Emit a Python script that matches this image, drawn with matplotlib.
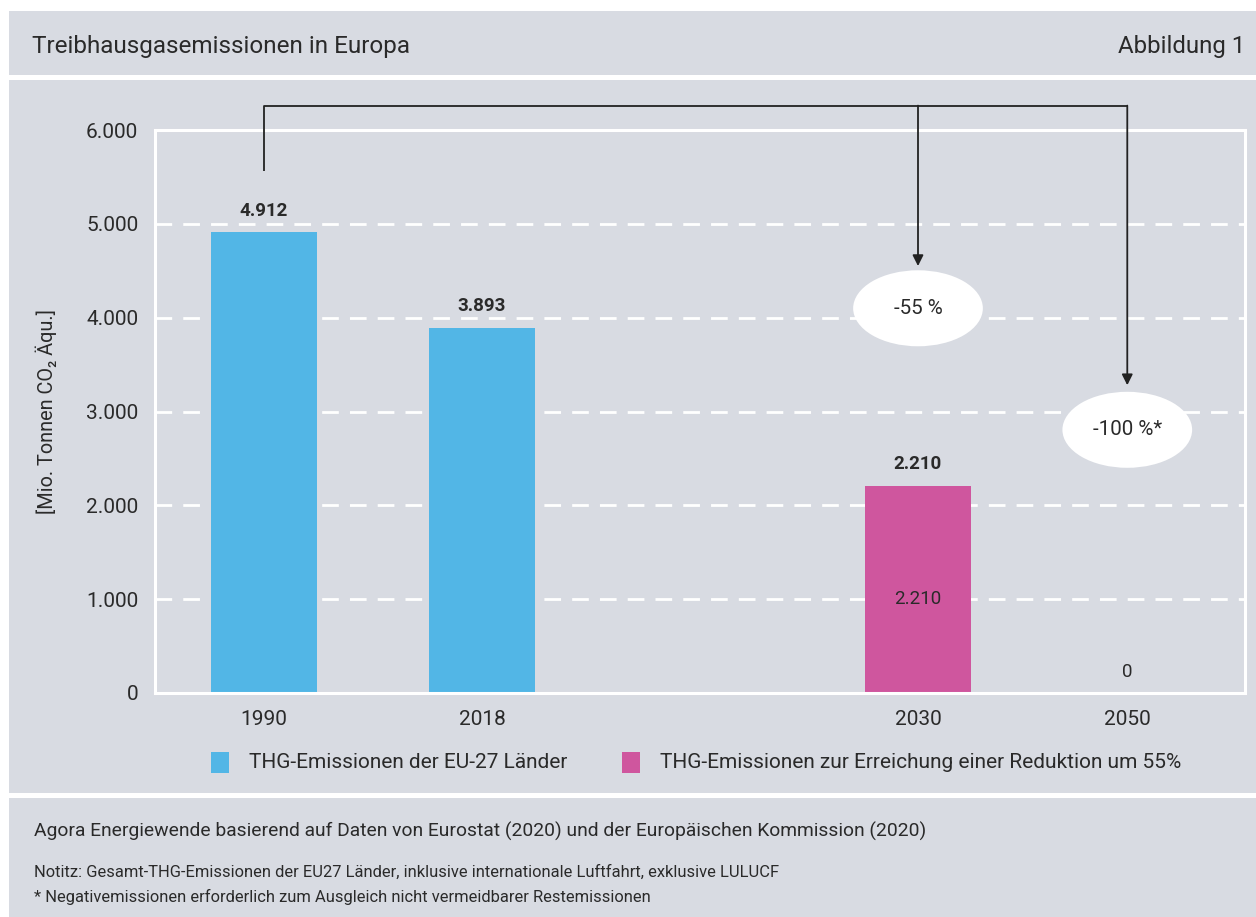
import matplotlib
matplotlib.use("Agg")
import matplotlib.pyplot as plt
from matplotlib.patches import Rectangle, Ellipse

plt.rcParams['font.family'] = ['Roboto', 'DejaVu Sans']

# ---- data ----
years = ["1990", "2018", "2030", "2050"]
positions = [0, 1, 3, 3.96]
values = [4912, 3893, 2210, 0]
top_labels = ["4.912", "3.893", "2.210", ""]
series_of_bar = ["eu", "eu", "target", "target"]
yticks = [0, 1000, 2000, 3000, 4000, 5000, 6000]
ytick_labels = ["0", "1.000", "2.000", "3.000", "4.000", "5.000", "6.000"]
legend_labels = ["THG-Emissionen der EU-27 Länder",
                 "THG-Emissionen zur Erreichung einer Reduktion um 55%"]
reductions = ["-55 %", "-100 %*"]

BLUE = "#52B6E6"
PINK = "#CF569E"
BG = "#D8DBE2"
TXT = "#2a2a2a"
colors = {"eu": BLUE, "target": PINK}

W, H = 1256, 917
fig = plt.figure(figsize=(W / 100, H / 100), dpi=100)
fig.patch.set_facecolor("white")

def px_rect(x0, y0, x1, y1, color, z=-10):
    fig.patches.append(Rectangle((x0 / W, 1 - y1 / H), (x1 - x0) / W, (y1 - y0) / H,
                                 transform=fig.transFigure, facecolor=color,
                                 edgecolor="none", zorder=z))

px_rect(9, 11, W, 75, BG)
px_rect(9, 80, W, 793, BG)
px_rect(9, 798, W, H, BG)

def ftext(x, y, s, **kw):
    fig.text(x / W, 1 - y / H, s, **kw)

ftext(32, 47, "Treibhausgasemissionen in Europa", fontsize=17.5, color=TXT, va="center", ha="left")
ftext(1245, 47, "Abbildung 1", fontsize=17.3, color=TXT, va="center", ha="right")

ax = fig.add_axes([155 / W, 1 - 693 / H, (1245 - 155) / W, (693 - 130) / H])
ax.set_facecolor(BG)
ax.set_xlim(-0.5, 4.5)
ax.set_ylim(0, 6000)
for s in ax.spines.values():
    s.set_color("white")
    s.set_linewidth(2.2)
ax.set_axisbelow(True)
ax.yaxis.grid(True, color="white", linestyle=(0, (6, 4)), linewidth=2)
ax.set_yticks(yticks)
ax.set_yticklabels(ytick_labels)
ax.set_xticks(positions)
ax.set_xticklabels(years)
ax.tick_params(axis="y", length=0, labelsize=15, colors=TXT, pad=12)
ax.tick_params(axis="x", length=0, labelsize=15, colors=TXT, pad=12)
ax.set_ylabel("[Mio. Tonnen CO₂ Äqu.]", fontsize=14.3, color=TXT, labelpad=21)

for p, v, lab, ser in zip(positions, values, top_labels, series_of_bar):
    ax.bar(p, v, width=0.49, color=colors[ser], zorder=2)
    if lab:
        ax.text(p, v + 230, lab, ha="center", va="center", fontsize=13.5,
                fontweight="bold", color=TXT)

# value labels inside / at zero
ax.text(positions[2], values[2] / 2 - 100, "2.210", ha="center", va="center", fontsize=13.5, color=TXT)
ax.text(positions[3], 220, "0", ha="center", va="center", fontsize=13.5, color=TXT)

# bracket with arrows
ytop = 6260
lc = "#222222"
ax.plot([positions[0], positions[0], positions[3]], [5560, ytop, ytop],
        color=lc, lw=1.3, clip_on=False, solid_capstyle="butt", zorder=5)
for p, tip in [(positions[2], 4550), (positions[3], 3280)]:
    ax.annotate("", xy=(p, tip), xytext=(p, ytop), xycoords="data",
                arrowprops=dict(arrowstyle="-|>", color=lc, lw=1.3,
                                mutation_scale=16, shrinkA=0, shrinkB=0),
                annotation_clip=False, zorder=5)

for p, yc, lab in [(positions[2], 4100, reductions[0]), (positions[3], 2805, reductions[1])]:
    ax.add_patch(Ellipse((p, yc), 0.595, 810, facecolor="white", edgecolor="none", zorder=6))
    ax.text(p, yc, lab, ha="center", va="center", fontsize=14.8, color=TXT, zorder=7)

# legend
for x0, col, lab in [(211, BLUE, legend_labels[0]), (622, PINK, legend_labels[1])]:
    px_rect(x0, 752, x0 + 18, 773, col, z=5)
    ftext(x0 + 38, 762, lab, fontsize=15, color=TXT, va="center", ha="left")

ftext(34, 831, "Agora Energiewende basierend auf Daten von Eurostat (2020) und der Europäischen Kommission (2020)",
      fontsize=13.9, color=TXT, va="center", ha="left")
ftext(34, 872, "Notitz: Gesamt-THG-Emissionen der EU27 Länder, inklusive internationale Luftfahrt, exklusive LULUCF",
      fontsize=11.85, color=TXT, va="center", ha="left")
ftext(34, 897, "* Negativemissionen erforderlich zum Ausgleich nicht vermeidbarer Restemissionen",
      fontsize=11.9, color=TXT, va="center", ha="left")

fig.savefig("out.png", dpi=100, facecolor=fig.get_facecolor())
